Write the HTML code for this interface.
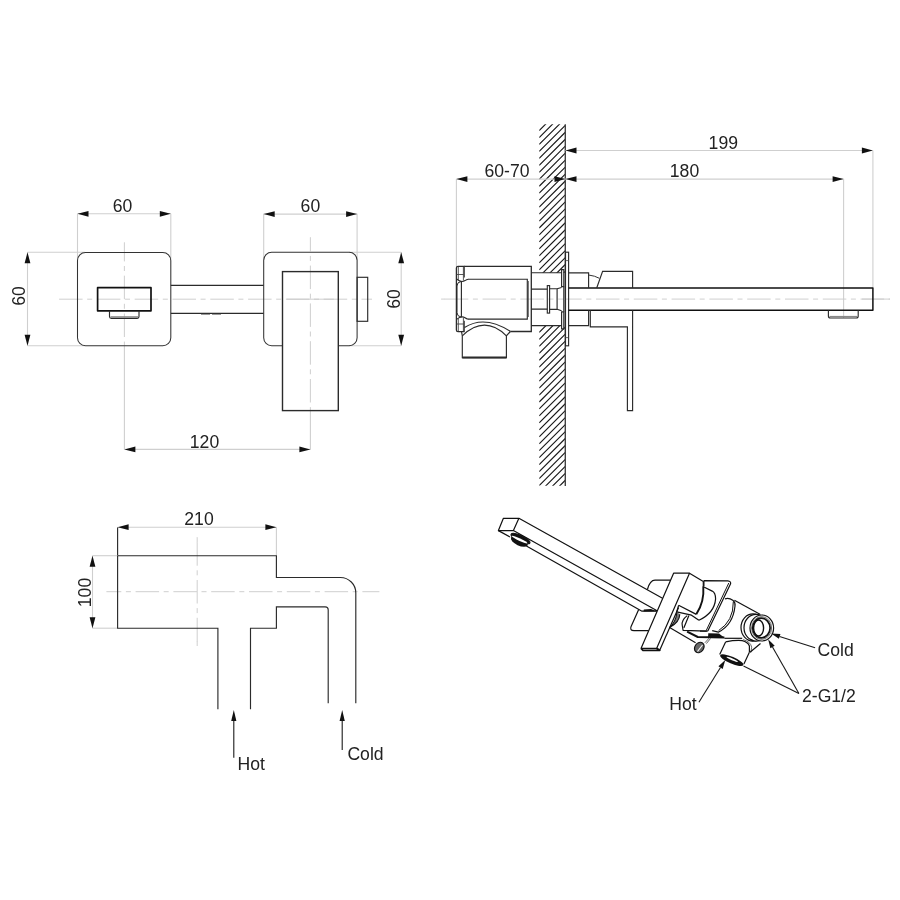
<!DOCTYPE html>
<html><head><meta charset="utf-8"><style>
html,body{margin:0;padding:0;background:#fff;width:900px;height:900px;overflow:hidden}
svg{display:block;will-change:transform}
text{font-family:"Liberation Sans",sans-serif;fill:#222}
.tx{opacity:0.995}
.m{stroke:#2b2b2b;stroke-width:1.15;fill:none}
.m2{stroke:#2b2b2b;stroke-width:2;fill:none}
.t{stroke:#444;stroke-width:0.8;fill:none}
.t2{stroke:#333;stroke-width:1;fill:none}
.a{stroke:#1a1a1a;stroke-width:1.1;fill:none}
.k{stroke:#111;stroke-width:1.2;fill:none;stroke-linejoin:round}
.d{stroke:#cfcfcf;stroke-width:1.1;fill:none}
.c{stroke:#c9c9c9;stroke-width:0.9;fill:none;stroke-dasharray:23.5 4.6 5 4.7}
.c0{stroke:#c9c9c9;stroke-width:0.9;fill:none}
.c2{stroke:#c9c9c9;stroke-width:0.9;fill:none;stroke-dasharray:23.5 4 5.5 4.5}
</style></head><body>
<svg width="900" height="900" viewBox="0 0 900 900">
<rect width="900" height="900" fill="#fff"/>
<line x1="77.5" y1="213.8" x2="77.5" y2="260" class="d"/>
<line x1="170.8" y1="213.8" x2="170.8" y2="260" class="d"/>
<line x1="77.5" y1="213.8" x2="170.8" y2="213.8" class="d"/><path d="M77.50,213.80 L88.50,210.90 L88.50,216.70Z" fill="#111" stroke="none"/><path d="M170.80,213.80 L159.80,216.70 L159.80,210.90Z" fill="#111" stroke="none"/><text class="tx" x="122.5" y="212" font-size="17.6" text-anchor="middle">60</text>
<line x1="263.7" y1="213.8" x2="263.7" y2="260" class="d"/>
<line x1="357.1" y1="213.8" x2="357.1" y2="260" class="d"/>
<line x1="263.7" y1="214.1" x2="357.1" y2="214.1" class="d"/><path d="M263.70,214.10 L274.70,211.20 L274.70,217.00Z" fill="#111" stroke="none"/><path d="M357.10,214.10 L346.10,217.00 L346.10,211.20Z" fill="#111" stroke="none"/><text class="tx" x="310.4" y="212" font-size="17.6" text-anchor="middle">60</text>
<line x1="27.5" y1="252.3" x2="85" y2="252.3" class="d"/>
<line x1="27.5" y1="345.7" x2="85" y2="345.7" class="d"/>
<line x1="27.5" y1="252.3" x2="27.5" y2="345.7" class="d"/>
<path d="M27.50,252.30 L30.40,263.30 L24.60,263.30Z" fill="#111" stroke="none"/><path d="M27.50,345.70 L24.60,334.70 L30.40,334.70Z" fill="#111" stroke="none"/>
<text class="tx" x="25.3" y="296" font-size="17.6" text-anchor="middle" transform="rotate(-90 25.3 296)">60</text>
<line x1="349" y1="252.3" x2="401.2" y2="252.3" class="d"/>
<line x1="349" y1="345.7" x2="401.2" y2="345.7" class="d"/>
<line x1="401.2" y1="252.3" x2="401.2" y2="345.7" class="d"/>
<path d="M401.20,252.30 L404.10,263.30 L398.30,263.30Z" fill="#111" stroke="none"/><path d="M401.20,345.70 L398.30,334.70 L404.10,334.70Z" fill="#111" stroke="none"/>
<text class="tx" x="400.4" y="299" font-size="17.6" text-anchor="middle" transform="rotate(-90 400.4 299)">60</text>
<line x1="59.1" y1="299.2" x2="372" y2="299.2" class="c"/>
<line x1="286.7" y1="299.2" x2="333.9" y2="299.2" class="c0"/>
<line x1="124.4" y1="242.3" x2="124.4" y2="345.7" class="c" style="stroke-dashoffset:4.4"/>
<line x1="124.4" y1="345.7" x2="124.4" y2="449.4" class="d"/>
<line x1="310.4" y1="237.2" x2="310.4" y2="410.6" class="c" style="stroke-dashoffset:9.4"/>
<line x1="310.4" y1="410.6" x2="310.4" y2="449.4" class="d"/>
<line x1="124.4" y1="449.4" x2="310.4" y2="449.4" class="d"/><path d="M124.40,449.40 L135.40,446.50 L135.40,452.30Z" fill="#111" stroke="none"/><path d="M310.40,449.40 L299.40,452.30 L299.40,446.50Z" fill="#111" stroke="none"/><text class="tx" x="204.5" y="448" font-size="17.6" text-anchor="middle">120</text>
<rect x="77.5" y="252.5" width="93.3" height="93.2" rx="8" class="m" style="stroke-width:1.05;stroke:#333"/>
<rect x="97.6" y="287.7" width="53.4" height="23.1" class="k" style="stroke-width:1.7"/>
<path d="M109.5,310.8 V316.5 Q109.5,318.3 111.3,318.3 H137.2 Q139,318.3 139,316.5 V310.8" class="m"/>
<line x1="110.5" y1="317" x2="138" y2="317" stroke="#888" stroke-width="1.6"/>
<line x1="170.8" y1="285.4" x2="263.7" y2="285.4" class="m"/>
<line x1="170.8" y1="313.3" x2="263.7" y2="313.3" class="m"/>
<line x1="201" y1="314" x2="221" y2="314" stroke="#333" stroke-width="1.2" stroke-dasharray="9 2"/>
<path d="M282.5,345.7 H271.7 A8,8 0 0 1 263.7,337.7 V260.3 A8,8 0 0 1 271.7,252.3 H349.1 A8,8 0 0 1 357.1,260.3 V337.7 A8,8 0 0 1 349.1,345.7 H338.3" class="m" style="stroke-width:1.05;stroke:#333"/>
<rect x="357.1" y="277.3" width="10.6" height="44" class="m"/>
<rect x="282.5" y="271.6" width="55.8" height="139" class="m" style="stroke-width:1.4"/>
<defs><clipPath id="wall"><path d="M539.2,124.2 H565.5 V485.7 H539.2Z M539.2,272.7 V325.6 H565.5 V272.7Z" clip-rule="evenodd"/></clipPath></defs>
<path d="M565.3,97.48 L539.2,123.58 M565.3,104.44 L539.2,130.54 M565.3,111.40 L539.2,137.50 M565.3,118.36 L539.2,144.46 M565.3,125.32 L539.2,151.42 M565.3,132.28 L539.2,158.38 M565.3,139.24 L539.2,165.34 M565.3,146.20 L539.2,172.30 M565.3,153.16 L539.2,179.26 M565.3,160.12 L539.2,186.22 M565.3,167.08 L539.2,193.18 M565.3,174.04 L539.2,200.14 M565.3,181.00 L539.2,207.10 M565.3,187.96 L539.2,214.06 M565.3,194.92 L539.2,221.02 M565.3,201.88 L539.2,227.98 M565.3,208.84 L539.2,234.94 M565.3,215.80 L539.2,241.90 M565.3,222.76 L539.2,248.86 M565.3,229.72 L539.2,255.82 M565.3,236.68 L539.2,262.78 M565.3,243.64 L539.2,269.74 M565.3,250.60 L539.2,276.70 M565.3,257.56 L539.2,283.66 M565.3,264.52 L539.2,290.62 M565.3,271.48 L539.2,297.58 M565.3,278.44 L539.2,304.54 M565.3,285.40 L539.2,311.50 M565.3,292.36 L539.2,318.46 M565.3,299.32 L539.2,325.42 M565.3,306.28 L539.2,332.38 M565.3,313.24 L539.2,339.34 M565.3,320.20 L539.2,346.30 M565.3,327.16 L539.2,353.26 M565.3,334.12 L539.2,360.22 M565.3,341.08 L539.2,367.18 M565.3,348.04 L539.2,374.14 M565.3,355.00 L539.2,381.10 M565.3,361.96 L539.2,388.06 M565.3,368.92 L539.2,395.02 M565.3,375.88 L539.2,401.98 M565.3,382.84 L539.2,408.94 M565.3,389.80 L539.2,415.90 M565.3,396.76 L539.2,422.86 M565.3,403.72 L539.2,429.82 M565.3,410.68 L539.2,436.78 M565.3,417.64 L539.2,443.74 M565.3,424.60 L539.2,450.70 M565.3,431.56 L539.2,457.66 M565.3,438.52 L539.2,464.62 M565.3,445.48 L539.2,471.58 M565.3,452.44 L539.2,478.54 M565.3,459.40 L539.2,485.50 M565.3,466.36 L539.2,492.46 M565.3,473.32 L539.2,499.42 M565.3,480.28 L539.2,506.38 M565.3,487.24 L539.2,513.34 M565.3,494.20 L539.2,520.30 M565.3,501.16 L539.2,527.26 M565.3,508.12 L539.2,534.22" stroke="#1a1a1a" stroke-width="1.15" fill="none" clip-path="url(#wall)"/>
<line x1="565.3" y1="124.2" x2="565.3" y2="486" stroke="#444" stroke-width="1.4"/>
<line x1="456.4" y1="179.1" x2="456.4" y2="266.4" class="d"/>
<line x1="456.4" y1="179.1" x2="565.5" y2="179.1" class="d"/>
<path d="M456.40,179.10 L467.40,176.20 L467.40,182.00Z" fill="#111" stroke="none"/><path d="M565.50,179.10 L554.50,182.00 L554.50,176.20Z" fill="#111" stroke="none"/>
<text class="tx" x="507" y="177" font-size="17.6" text-anchor="middle">60-70</text>
<line x1="565.5" y1="179.1" x2="843.6" y2="179.1" class="d"/>
<path d="M565.50,179.10 L576.50,176.20 L576.50,182.00Z" fill="#111" stroke="none"/><path d="M843.60,179.10 L832.60,182.00 L832.60,176.20Z" fill="#111" stroke="none"/>
<text class="tx" x="684.5" y="176.7" font-size="17.6" text-anchor="middle">180</text>
<line x1="565.5" y1="150.5" x2="872.9" y2="150.5" class="d"/>
<path d="M565.50,150.50 L576.50,147.60 L576.50,153.40Z" fill="#111" stroke="none"/><path d="M872.90,150.50 L861.90,153.40 L861.90,147.60Z" fill="#111" stroke="none"/>
<text class="tx" x="723.3" y="149" font-size="17.6" text-anchor="middle">199</text>
<line x1="843.6" y1="179.1" x2="843.6" y2="318" class="d"/>
<line x1="872.9" y1="150.5" x2="872.9" y2="288.2" class="d"/>
<line x1="441.1" y1="299.1" x2="445" y2="299.1" class="c0"/>
<line x1="862" y1="299.1" x2="890" y2="299.1" class="c0"/>
<line x1="441.1" y1="299.1" x2="890" y2="299.1" class="c" style="stroke-dashoffset:-3.7"/>
<path d="M464.2,266.4 H531.3 V331.5 H510.4" class="m" style="stroke-width:1.3"/>
<path d="M468,279.2 H527.3 V319.1 H468" class="m"/>
<line x1="528.4" y1="281" x2="528.4" y2="317" class="t"/>
<path d="M458,266.4 Q456.4,266.4 456.4,268 V330 Q456.4,331.6 458,331.6" class="m" style="stroke-width:1.3"/>
<path d="M458,266.4 H464.2 V277.6 M458,331.6 H464.2 V320.8" class="m"/>
<path d="M456.6,279 Q461.4,283 465,280.6 Q466.5,279.5 468.2,279.2 M456.6,319.4 Q461.4,315.4 465,317.8 Q466.5,318.9 468.2,319.2" class="m"/>
<path d="M458.3,267 V280 M463.4,267 V280.5 M458.3,318.5 V331 M463.4,318 V331 M456.6,274.5 H464 M456.6,324 H464" stroke="#444" stroke-width="0.9" fill="none"/>
<path d="M461,281.5 Q457,282 457,286 V312.5 Q457,316.5 461,317" class="m" style="stroke-width:1"/>
<path d="M461.4,281 V317.3" class="m"/>
<path d="M464.5,327.5 Q484.6,314.8 510.4,331.4" class="m"/>
<path d="M462.3,335.8 Q484.6,314.6 506.4,335.8" class="m"/>
<path d="M461.5,331.6 L462.3,335.8 V357.6 H506.4 V335.8 L510.4,331.5" class="m"/>
<line x1="462.3" y1="357.6" x2="506.4" y2="357.6" class="m2"/>
<path d="M531.3,272.7 H561.6 M531.3,325.6 H561.6" class="m"/>
<path d="M531.3,289.1 H547.3 M531.3,309.1 H547.3" class="m"/>
<rect x="547.3" y="285.6" width="2.3" height="27.5" class="m"/>
<path d="M549.6,288.7 H557.1 V309.3 H549.6" class="m"/>
<path d="M557.1,288.7 L561.6,287.5 M557.1,309.3 L561.6,310.8" class="m"/>
<path d="M561.6,269.6 H563.8 V286.6 H561.6Z M561.6,311.8 H563.8 V328.9 H561.6Z" class="m"/>
<line x1="563.8" y1="286.6" x2="563.8" y2="311.8" class="m"/>
<rect x="565.5" y="252.2" width="3.1" height="93.6" class="m"/>
<path d="M565.5,260.6 H568.6 M565.5,337.6 H568.6" class="t"/>
<path d="M568.6,288 H872.9 V310.2 H568.6" class="k" style="stroke-width:1.5"/>
<path d="M828.4,310.2 V316 Q828.4,318 830.4,318 H856.2 Q858.2,318 858.2,316 V310.2" class="m"/>
<line x1="829.5" y1="316.6" x2="857" y2="316.6" stroke="#888" stroke-width="1.4"/>
<path d="M568.6,272.8 H588.6 V288 M568.6,325.6 H588.6 V310.2" class="m"/>
<path d="M588.6,275 Q595,275.8 599.4,278.3" class="t2"/>
<path d="M596.7,288 L602.6,271.3 H632.6 V288 M632.6,310.2 V410.6 H627.4 V326.9 H590.3 V310.2" class="m"/>
<line x1="117.6" y1="527.2" x2="117.6" y2="555.7" class="m"/>
<line x1="276.4" y1="527.2" x2="276.4" y2="555.7" class="d"/>
<line x1="117.6" y1="527.2" x2="276.4" y2="527.2" class="d"/>
<path d="M117.60,527.20 L128.60,524.30 L128.60,530.10Z" fill="#111" stroke="none"/><path d="M276.40,527.20 L265.40,530.10 L265.40,524.30Z" fill="#111" stroke="none"/>
<text class="tx" x="199" y="525" font-size="17.6" text-anchor="middle">210</text>
<line x1="92.5" y1="555.7" x2="117.6" y2="555.7" class="d"/>
<line x1="92.5" y1="628.2" x2="117.6" y2="628.2" class="d"/>
<line x1="92.5" y1="555.7" x2="92.5" y2="628.2" class="d"/>
<path d="M92.50,555.70 L95.40,566.70 L89.60,566.70Z" fill="#111" stroke="none"/><path d="M92.50,628.20 L89.60,617.20 L95.40,617.20Z" fill="#111" stroke="none"/>
<text class="tx" x="91.3" y="592.5" font-size="17.6" text-anchor="middle" transform="rotate(-90 91.3 592.5)">100</text>
<line x1="106.4" y1="591.7" x2="379.4" y2="591.7" class="c" style="stroke-dashoffset:8.6"/>
<line x1="197.2" y1="537.3" x2="197.2" y2="542.2" class="c0"/>
<line x1="197.2" y1="537.3" x2="197.2" y2="641.5" class="c" style="stroke-dashoffset:-4.9"/>
<line x1="197.2" y1="641" x2="197.2" y2="646" class="c0"/>
<path d="M117.6,555.7 H276.4 V577.5 H340.4 A15.4,15.4 0 0 1 355.8,592.9 V703.3" class="m"/>
<path d="M117.6,555.7 V628.2 H217.9 V709.3" class="m"/>
<path d="M250.5,709.3 V628.2 H276.4 V606.8 H325.2 A3,3 0 0 1 328.2,609.8 V703.3" class="m"/>
<line x1="233.8" y1="721" x2="233.8" y2="757.8" class="a"/>
<path d="M233.80,710.00 L236.40,721.00 L231.20,721.00Z" fill="#111" stroke="none"/>
<line x1="342.2" y1="721" x2="342.2" y2="750" class="a"/>
<path d="M342.20,710.00 L344.80,721.00 L339.60,721.00Z" fill="#111" stroke="none"/>
<text class="tx" x="237.6" y="769.7" font-size="17.6" text-anchor="start">Hot</text>
<text class="tx" x="347.4" y="760" font-size="17.6" text-anchor="start">Cold</text>
<path d="M503.4,518.3 L518.9,518.3 L513.4,530.6 L498.4,530.6 Z" class="k"/>
<path d="M518.9,518.3 L662.5,598.2 M513.4,530.6 L657.1,610.8 M498.4,530.6 L510,537 M526.4,546.1 L642,611.2 L657.1,611.2" class="k"/>
<ellipse cx="520.5" cy="538.6" rx="10.4" ry="3.2" transform="rotate(25 520.5 538.6)" fill="#111" stroke="#111" stroke-width="1"/>
<ellipse cx="519.4" cy="541.3" rx="9.2" ry="4.3" transform="rotate(25 519.4 541.3)" fill="#111"/>
<ellipse cx="519.6" cy="539.6" rx="8.6" ry="1.3" transform="rotate(25 519.6 539.6)" fill="#fff"/>
<path d="M643.8,609.4 L651,609 L656.5,611.3 L643.5,611.6Z" fill="#111"/>
<path d="M647.4,589.5 Q650,580.2 655,580.2 L670.5,580.2 M638.7,609.4 L631.1,626.4 Q629.5,630.6 634,630.6 L648.9,630.6" class="k"/>
<path d="M673.6,573.2 L689.5,573.2 L656.7,648.3 L641.1,648.3 Z" class="k" style="fill:#fff"/>
<path d="M641.1,648.3 L643,650.3 L659.7,650.3 L656.7,648.3" class="k" style="stroke-width:1.8"/>
<path d="M659.7,650.3 L678.6,607.5" class="k"/>
<path d="M689.5,573.2 L703.3,581.4 V587" class="k"/>
<path d="M703.3,586.5 Q704.5,602 696.3,614.2" class="k" style="stroke-width:1.9"/>
<path d="M678.6,605.3 L696.3,614.4" class="k"/>
<path d="M678.6,605.3 L676.7,611.9 L691.5,615.2 L698.9,620.3" class="k"/>
<path d="M676.9,612 Q676,622 669.6,627.4 Q679.5,622.5 679.8,614.2" fill="#777" stroke="#111" stroke-width="1.1" stroke-linejoin="round"/>
<path d="M703.9,587 L712.2,591.1 Q715.6,593 715.6,598.9 Q714.5,613 698.9,620.3" class="k"/>
<path d="M703.9,580.6 L727.8,580.8 Q731.2,581.3 730.6,583.8 L707.8,631.1 M703.9,580.6 V586.1" class="k"/>
<path d="M728.8,583 L706.2,630.6" class="k" style="stroke-width:1"/>
<path d="M725,598.9 Q729,597.6 732.8,600.3 Q735.6,602.5 735,606 Q733,625 718.3,632.2 L712.2,630.6" class="k"/>
<path d="M733.3,602 Q733.5,621 718.6,630.6" class="k" style="stroke-width:1"/>
<path d="M734.4,600.3 L760,614.2" class="k"/>
<path d="M687.2,615.6 Q681.5,620 682.2,625 L683.1,630.3 L706.7,631.2 M688.9,615.6 L683.9,627.8" class="k"/>
<path d="M687.1,631.7 L697.8,637 L724.4,637.5" class="k" style="stroke-width:2"/>
<path d="M708.3,633.3 L719,633.6 L724.4,637.8 L708,637.6Z" fill="#111"/>
<path d="M700,631.1 L707.8,631.1" class="k"/>
<path d="M669.6,627.6 L695.6,642.8" class="k"/>
<ellipse cx="699.3" cy="647.5" rx="4.4" ry="5.6" transform="rotate(35 699.3 647.5)" fill="#666" stroke="#111" stroke-width="1.2"/>
<path d="M697.5,651.5 L702.5,645" stroke="#fff" stroke-width="1.1"/>
<path d="M704.9,642.8 L709.3,637.9 M706.4,643.6 L710.6,638.4" class="t"/>
<path d="M724.4,638.3 L742.2,638.3" class="k"/>
<path d="M725.6,641.9 Q735,640 742.2,640.6 Q748,642 749.4,646 L749.4,652.2" class="k"/>
<path d="M743,639.6 Q750.5,641.5 751.7,647.2 L750.8,652.5" class="t"/>
<path d="M725.6,641.9 L719.7,654.4 M749.4,652.2 L743.9,663.9 M750,652.2 L760.5,643.5" class="k"/>
<ellipse cx="731.8" cy="660.2" rx="12.6" ry="3.4" transform="rotate(23 731.8 660.2)" fill="#111"/>
<ellipse cx="732.2" cy="659.4" rx="6.2" ry="0.9" transform="rotate(23 732.2 659.4)" fill="#fff"/>
<ellipse cx="753" cy="627.5" rx="12" ry="13.6" class="k" style="fill:#fff"/>
<ellipse cx="756" cy="627.7" rx="12" ry="13.4" class="k" style="fill:#fff"/>
<ellipse cx="761.8" cy="628" rx="11.8" ry="13" class="k" style="fill:#fff"/>
<ellipse cx="761.6" cy="628" rx="10" ry="11.4" class="t"/>
<ellipse cx="761.4" cy="628" rx="8.7" ry="9.8" class="k" style="stroke-width:1.7"/>
<ellipse cx="758.6" cy="628" rx="5" ry="8" class="k" style="stroke-width:1.4"/>
<path d="M749,638 L754.4,640.5 L752,641.5Z" fill="#111"/>
<path d="M815.1,647.8 L779.5,636.4" class="a"/>
<path d="M771.10,633.60 L780.43,633.98 L778.90,638.74Z" fill="#111" stroke="none"/>
<path d="M798.9,693.5 L772.5,647" class="a"/>
<path d="M768.10,639.20 L774.71,645.79 L770.37,648.26Z" fill="#111" stroke="none"/>
<path d="M798.9,693.5 L743.5,666" class="a"/>
<path d="M698.9,702.3 L720.5,667.5" class="a"/>
<path d="M725.30,660.00 L722.66,668.96 L718.41,666.31Z" fill="#111" stroke="none"/>
<text class="tx" x="669.2" y="709.7" font-size="17.6" text-anchor="start">Hot</text>
<text class="tx" x="817.6" y="655.5" font-size="17.6" text-anchor="start">Cold</text>
<text class="tx" x="802" y="702.4" font-size="17.6" text-anchor="start">2-G1/2</text>
</svg>
</body></html>
